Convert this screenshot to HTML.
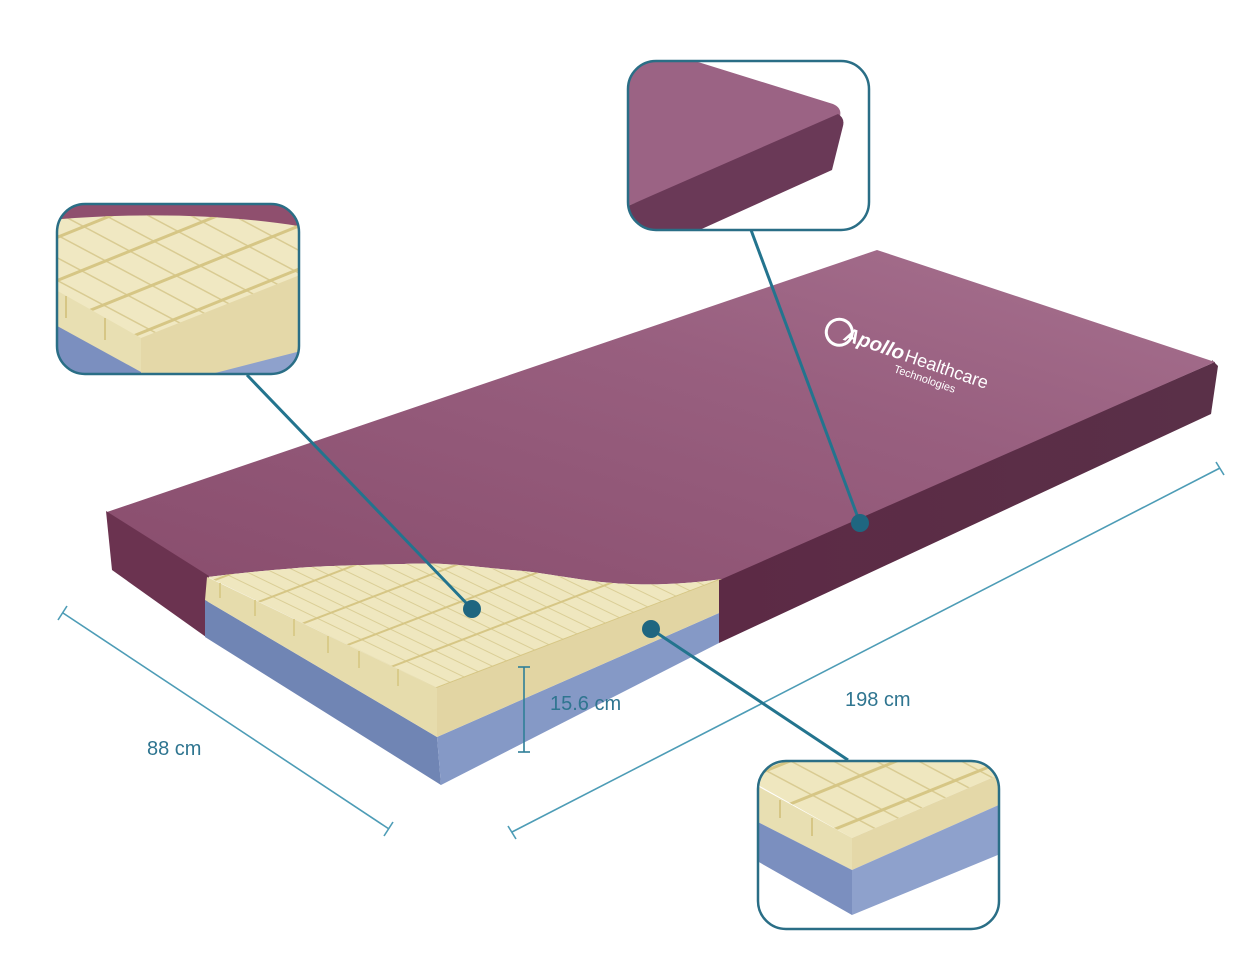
<!DOCTYPE html>
<html><head><meta charset="utf-8"><style>
html,body{margin:0;padding:0;background:#fff;}
svg{display:block;}
text{font-family:"Liberation Sans",sans-serif;}
</style></head><body>
<svg width="1251" height="974" viewBox="0 0 1251 974" xmlns="http://www.w3.org/2000/svg">
<defs>
<linearGradient id="top" x1="0" y1="1" x2="1" y2="0">
<stop offset="0" stop-color="#894d6d"/><stop offset="0.6" stop-color="#985f7f"/><stop offset="1" stop-color="#a7718f"/>
</linearGradient>
<linearGradient id="side" x1="0" y1="0" x2="1" y2="0">
<stop offset="0" stop-color="#5c2a45"/><stop offset="1" stop-color="#5a3048"/>
</linearGradient>
<pattern id="trans" width="11" height="11" patternUnits="userSpaceOnUse" patternTransform="rotate(25.8)">
<rect x="0" y="0" width="11" height="1" fill="#d9cb92" opacity="0.9"/>
</pattern>
<pattern id="long" width="36" height="36" patternUnits="userSpaceOnUse" patternTransform="translate(220,577) rotate(-20.9)">
<rect x="0" y="0" width="36" height="2" fill="#d6c685"/>
</pattern>
<pattern id="trans2" width="20" height="20" patternUnits="userSpaceOnUse" patternTransform="rotate(28)">
<rect x="0" y="0" width="20" height="1.5" fill="#d9cb92"/>
</pattern>
<pattern id="long2" width="40" height="40" patternUnits="userSpaceOnUse" patternTransform="rotate(-22)">
<rect x="0" y="0" width="40" height="3" fill="#d6c685"/>
</pattern>
<clipPath id="c1"><rect x="57" y="204" width="242" height="170" rx="28"/></clipPath>
<clipPath id="c2"><rect x="628" y="61" width="241" height="169" rx="28"/></clipPath>
<clipPath id="c3"><rect x="758" y="761" width="241" height="168" rx="28"/></clipPath>
</defs>

<!-- mattress -->
<path d="M719,578 L1215,362 L1211,414 L719,643 Z" fill="url(#side)"/>
<path d="M1212,360 L1218,366 L1211,414 Z" fill="#5a3048"/>
<path d="M107,512 L877,250 L1215,362 L722,579 C680,585 640,586 601,582 C560,577 540,572 511,570 C470,566 440,562 404,564 C360,565 320,566 297,568 C260,571 230,574 208,577 Z" fill="url(#top)"/>
<path d="M106,511 L209,576 L206,637 L112,570 Z" fill="#6b3350"/>
<!-- foam -->
<path d="M205,600 L437,737 L441,785 L205,637 Z" fill="#7085b4"/>
<path d="M437,737 L719,613 L719,643 L441,785 Z" fill="#8599c6"/>
<path d="M207,577 L437,688 L437,737 L205,600 Z" fill="#e6dcac"/>
<path d="M437,688 L719,579 L719,613 L437,737 Z" fill="#e2d5a3"/>
<path d="M208,577 C230,574 260,571 297,568 C320,566 360,565 404,564 C440,562 470,566 511,570 C540,572 560,577 601,582 C640,586 680,585 722,579 L437,688 Z" fill="#efe7bf"/>
<path d="M208,577 C230,574 260,571 297,568 C320,566 360,565 404,564 C440,562 470,566 511,570 C540,572 560,577 601,582 C640,586 680,585 722,579 L437,688 Z" fill="url(#trans)"/>
<path d="M208,577 C230,574 260,571 297,568 C320,566 360,565 404,564 C440,562 470,566 511,570 C540,572 560,577 601,582 C640,586 680,585 722,579 L437,688 Z" fill="url(#long)"/>
<g stroke="#d9cb8a" stroke-width="2">
<line x1="220" y1="583" x2="220" y2="598"/><line x1="255" y1="600" x2="255" y2="616"/>
<line x1="294" y1="619" x2="294" y2="636"/><line x1="328" y1="636" x2="328" y2="653"/>
<line x1="359" y1="651" x2="359" y2="668"/><line x1="398" y1="669" x2="398" y2="686"/>
</g>

<!-- logo -->
<g transform="translate(828,322) rotate(19)" fill="#fff">
<circle cx="14" cy="6" r="13" fill="none" stroke="#fff" stroke-width="3"/>
<text x="20" y="12" font-size="20" font-weight="bold" font-style="italic">Apollo</text>
<text x="84" y="12" font-size="18">Healthcare</text>
<text x="78" y="26" font-size="11">Technologies</text>
</g>

<!-- dimension lines -->
<g stroke="#4d9cb6" stroke-width="1.6" fill="none">
<line x1="63" y1="613" x2="389" y2="829"/>
<line x1="58" y1="620" x2="67" y2="606"/><line x1="384" y1="836" x2="393" y2="822"/>
<line x1="512" y1="832" x2="1220" y2="468"/>
<line x1="508" y1="826" x2="516" y2="839"/><line x1="1216" y1="462" x2="1224" y2="475"/>
</g>
<g stroke="#2e7f98" stroke-width="1.6">
<line x1="524" y1="667" x2="524" y2="752"/><line x1="518" y1="667" x2="530" y2="667"/><line x1="518" y1="752" x2="530" y2="752"/>
</g>
<g fill="#2f7590" font-size="20">
<text x="147" y="755">88 cm</text>
<text x="550" y="710">15.6 cm</text>
<text x="845" y="706">198 cm</text>
</g>

<!-- callout lines -->
<g stroke="#23748e" stroke-width="3">
<line x1="247" y1="375" x2="472" y2="609"/>
<line x1="751" y1="230" x2="860" y2="523"/>
<line x1="651" y1="629" x2="848" y2="760"/>
</g>
<g fill="#1f6680">
<circle cx="472" cy="609" r="9"/><circle cx="860" cy="523" r="9"/><circle cx="651" cy="629" r="9"/>
</g>

<!-- inset 1 -->
<g clip-path="url(#c1)">
<rect x="50" y="200" width="260" height="180" fill="#f0e8c2"/>
<path d="M50,200 L310,200 L310,228 C230,214 140,212 50,220 Z" fill="#8f4f6e"/>
<path d="M50,220 C140,212 230,214 310,228 L301,275 L141,338 L56,290 Z" fill="url(#trans2)"/>
<path d="M50,220 C140,212 230,214 310,228 L301,275 L141,338 L56,290 Z" fill="url(#long2)"/>
<path d="M56,290 L141,338 L141,400 L56,340 Z" fill="#e8dfb2"/>
<path d="M141,338 L305,273 L305,352 L141,398 Z" fill="#e4d8a8"/>
<path d="M50,322 L141,372 L141,390 L50,390 Z" fill="#7b8fbf"/>
<path d="M141,392 L305,350 L305,390 L141,390 Z" fill="#8ea1cc"/>
<g stroke="#d6c685" stroke-width="2"><line x1="66" y1="296" x2="66" y2="318"/><line x1="105" y1="318" x2="105" y2="340"/></g>
</g>
<rect x="57" y="204" width="242" height="170" rx="28" fill="none" stroke="#2a6e86" stroke-width="2.5"/>

<!-- inset 2 -->
<g clip-path="url(#c2)">
<rect x="620" y="55" width="260" height="185" fill="#fff"/>
<path d="M620,55 L690,55 L698,62 L833,104 Q842,108 840,116 L628,206 L620,210 Z" fill="#9b6384"/>
<path d="M628,206 L838,114 Q845,118 843,126 L832,170 L695,232 L620,240 L620,210 Z" fill="#6a3957"/>
</g>
<rect x="628" y="61" width="241" height="169" rx="28" fill="none" stroke="#2a6e86" stroke-width="2.5"/>

<!-- inset 3 -->
<g clip-path="url(#c3)">
<rect x="750" y="752" width="260" height="185" fill="#fff"/>
<path d="M750,752 L1010,752 L1010,770 L852,838 L758,785 L750,782 Z" fill="#efe7bf"/>
<path d="M750,752 L1010,752 L1010,770 L852,838 L758,785 L750,782 Z" fill="url(#trans2)"/>
<path d="M750,752 L1010,752 L1010,770 L852,838 L758,785 L750,782 Z" fill="url(#long2)"/>
<path d="M750,782 L852,838 L852,870 L750,818 Z" fill="#e8dfb2"/>
<path d="M852,838 L1010,770 L1010,800 L852,870 Z" fill="#e4d8a8"/>
<path d="M750,818 L852,870 L852,915 L750,857 Z" fill="#7b8fbf"/>
<path d="M852,870 L1010,800 L1010,850 L852,915 Z" fill="#8ea1cc"/>
<g stroke="#d6c685" stroke-width="2"><line x1="780" y1="800" x2="780" y2="818"/><line x1="812" y1="818" x2="812" y2="836"/></g>
</g>
<rect x="758" y="761" width="241" height="168" rx="28" fill="none" stroke="#2a6e86" stroke-width="2.5"/>
</svg>
</body></html>
